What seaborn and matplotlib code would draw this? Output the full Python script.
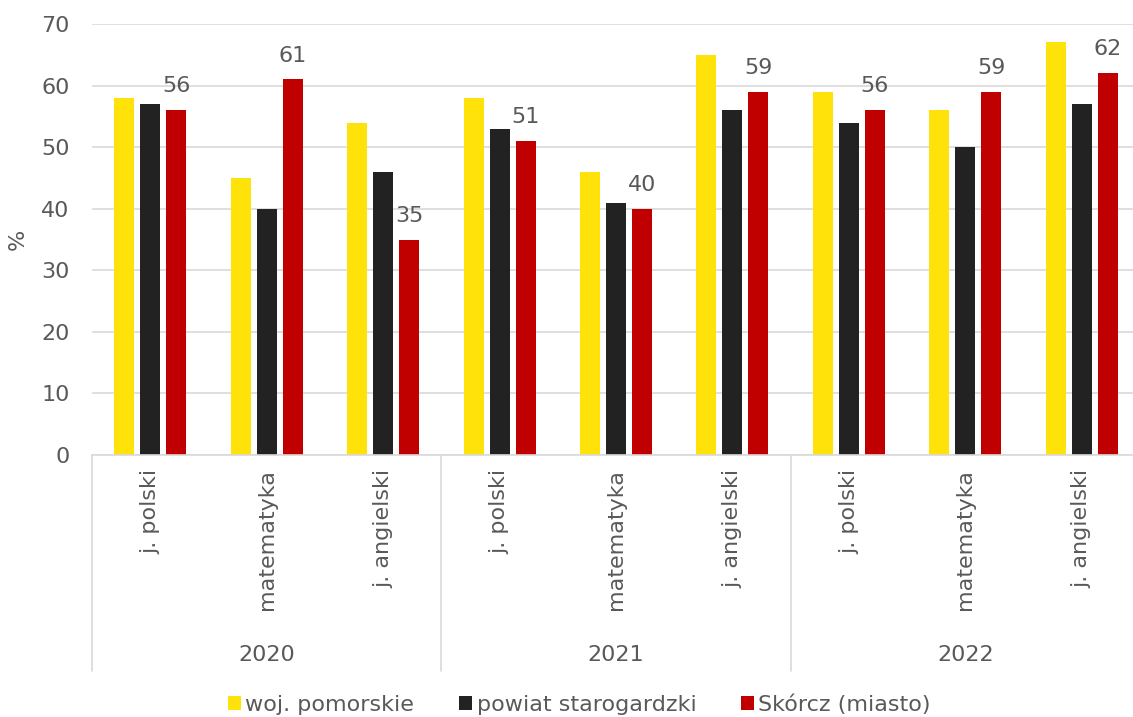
import numpy as np
import pandas as pd
import matplotlib
matplotlib.use("Agg")
import matplotlib.pyplot as plt
import matplotlib.transforms as mtransforms
import seaborn as sns

years = ["2020", "2021", "2022"]
subjects = ["j. polski", "matematyka", "j. angielski"]
series = ["woj. pomorskie", "powiat starogardzki", "Skórcz (miasto)"]
woj = [58, 45, 54, 58, 46, 65, 59, 56, 67]
powiat = [57, 40, 46, 53, 41, 56, 54, 50, 57]
skorcz = [56, 61, 35, 51, 40, 59, 56, 59, 62]
colors = ["#FFE20A", "#222222", "#C00000"]

cats = [f"{y}|{s}" for y in years for s in subjects]
rows = []
for name, vals in zip(series, [woj, powiat, skorcz]):
    for c, v in zip(cats, vals):
        rows.append({"cat": c, "seria": name, "val": v})
df = pd.DataFrame(rows)

sns.set_style("white")
plt.rcParams["font.family"] = ["DejaVu Sans"]
grey = "#595959"

fig = plt.figure(figsize=(11.33, 7.17), dpi=100)
ax = fig.add_axes([92 / 1133, 1 - 455 / 717, 1048 / 1133, 431 / 717])

sns.barplot(data=df, x="cat", y="val", hue="seria", order=cats, hue_order=series,
            palette=colors, width=0.67, gap=0.23, saturation=1, ax=ax, legend=True,
            linewidth=0)

ax.set_ylim(0, 70)
ax.set_xlim(-0.5, len(cats) - 0.5)
ax.set_yticks(range(0, 71, 10))
ax.yaxis.grid(True, color="#D9D9D9", linewidth=1.2)
ax.set_axisbelow(True)
for sp in ["top", "right", "left"]:
    ax.spines[sp].set_visible(False)
ax.spines["bottom"].set_color("#D9D9D9")
ax.spines["bottom"].set_linewidth(1.2)
ax.tick_params(axis="y", length=0, labelsize=16, labelcolor=grey, pad=16)
ax.set_ylabel("%", fontsize=16, color=grey, labelpad=10)
ax.set_xlabel("")

# rotated subject labels
ax.set_xticks(range(len(cats)))
ax.set_xticklabels([c.split("|")[1] for c in cats], rotation=90, fontsize=16,
                   color=grey, va="top")
ax.tick_params(axis="x", length=0, pad=10)

# year labels and separators
trans = mtransforms.blended_transform_factory(ax.transData, ax.transAxes)
for i, y in enumerate(years):
    ax.text(3 * i + 1, -0.465, y, transform=trans, ha="center", va="center",
            fontsize=16, color=grey)
for b in range(len(years) + 1):
    ax.plot([3 * b - 0.5] * 2, [0, -0.5], transform=trans, color="#D9D9D9",
            linewidth=1.2, clip_on=False)

# labels on the last series
red = ax.containers[2]
ax.bar_label(red, labels=[str(v) for v in skorcz], padding=10, fontsize=16, color=grey)

leg = ax.legend(loc="lower center", bbox_to_anchor=(0.465, -0.65), ncol=3, frameon=False,
                fontsize=16, handlelength=0.6, handleheight=0.6, handletextpad=0.2,
                columnspacing=2.0)
for t in leg.get_texts():
    t.set_color(grey)

fig.savefig("out.png", dpi=100)
